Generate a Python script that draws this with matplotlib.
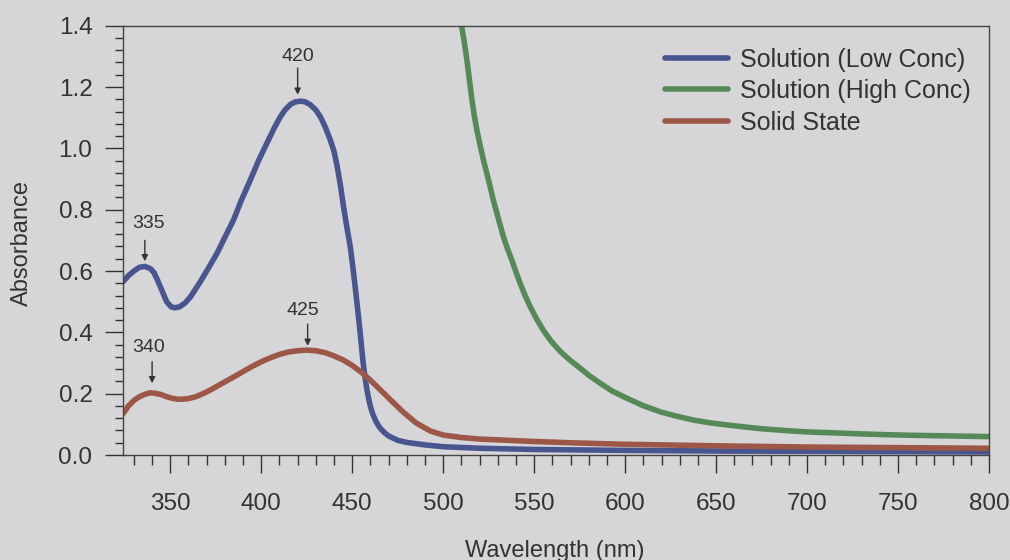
import numpy as np
import matplotlib.pyplot as plt
from matplotlib.ticker import MultipleLocator

plt.rcParams['font.family'] = ['Liberation Sans', 'DejaVu Sans']

wl_low = [324, 327, 330, 333, 336, 339, 341, 343, 345.5, 348, 350.5, 352.5, 355, 358,
          361, 366.5, 371, 375.7, 380, 384.8, 389, 394, 398.5, 403.1, 407, 410.4, 413,
          416, 418.5, 421.4, 424, 427, 430, 432.4, 435, 437.9, 440, 441.6, 443.5, 445.2,
          447, 448.9, 450.3, 451.6, 452.8, 454, 455, 456, 457, 458, 459, 460, 461.5,
          463, 465, 467.5, 470, 475, 480, 490, 500, 520, 550, 600, 650, 700, 800]
abs_low = [0.565, 0.585, 0.60, 0.612, 0.615, 0.608, 0.595, 0.57, 0.535, 0.50, 0.483,
           0.48, 0.483, 0.495, 0.515, 0.565, 0.61, 0.658, 0.71, 0.767, 0.83, 0.897,
           0.96, 1.017, 1.065, 1.102, 1.125, 1.143, 1.151, 1.154, 1.152, 1.142, 1.125,
           1.104, 1.072, 1.028, 0.99, 0.945, 0.88, 0.81, 0.745, 0.68, 0.615, 0.549,
           0.485, 0.42, 0.36, 0.30, 0.255, 0.215, 0.185, 0.158, 0.13, 0.11, 0.09, 0.074,
           0.062, 0.048, 0.041, 0.033, 0.027, 0.022, 0.018, 0.015, 0.013, 0.012, 0.010]

wl_high = [509.5, 511.5, 513, 514.5, 515.8, 517, 518.5, 520.3, 522.1, 524, 525.8, 527.5,
           529.5, 531.3, 533.1, 535.3, 537.7, 540, 542.3, 545, 547.8, 551.3, 555.1, 559.5,
           564.3, 569.5, 575.3, 580.5, 586.3, 593, 601, 609.5, 619.2, 628, 637.5, 646.5,
           655.9, 665, 674.2, 683, 692.5, 701.5, 710.8, 720, 729, 745, 760, 780, 800]
abs_high = [1.42, 1.35, 1.289, 1.22, 1.158, 1.11, 1.06, 1.01, 0.962, 0.918, 0.875, 0.832,
            0.789, 0.75, 0.712, 0.673, 0.636, 0.597, 0.56, 0.52, 0.484, 0.444, 0.406,
            0.37, 0.338, 0.31, 0.283, 0.258, 0.234, 0.208, 0.185, 0.162, 0.141, 0.127,
            0.114, 0.105, 0.098, 0.092, 0.086, 0.082, 0.078, 0.075, 0.073, 0.071, 0.069,
            0.066, 0.064, 0.062, 0.06]

wl_solid = [324, 327, 330, 333, 336, 339, 342, 345, 348, 351, 354, 357, 360, 364, 368,
            372, 378, 385, 390, 395, 400, 405, 410, 415, 420, 425, 430, 435, 440, 445,
            450, 455, 460, 465, 471, 478, 485, 493, 500, 510, 520, 535, 550, 575, 600,
            650, 700, 750, 800]
abs_solid = [0.135, 0.16, 0.178, 0.19, 0.198, 0.203, 0.201, 0.197, 0.19, 0.185, 0.182,
             0.182, 0.184, 0.19, 0.2, 0.212, 0.232, 0.255, 0.272, 0.289, 0.304, 0.317,
             0.328, 0.336, 0.34, 0.342, 0.34, 0.334, 0.323, 0.31, 0.292, 0.27, 0.244,
             0.215, 0.18, 0.14, 0.105, 0.078, 0.065, 0.057, 0.052, 0.048, 0.044, 0.039,
             0.035, 0.03, 0.026, 0.024, 0.022]

labels = ["Solution (Low Conc)", "Solution (High Conc)", "Solid State"]
colors = ["#48558f", "#558a58", "#9c5746"]

# Pics annotés : (texte, x flèche, y bout, y queue, x texte, y texte)
peaks = [("420", 420, 1.175, 1.262, 420, 1.30),
         ("335", 336, 0.632, 0.70, 338, 0.755),
         ("340", 340, 0.234, 0.304, 338, 0.35),
         ("425", 425.5, 0.356, 0.427, 423, 0.472)]

bg = "#d6d5d8"
ink = "#333333"

fig = plt.figure(figsize=(10.1, 5.6), dpi=100, facecolor=bg)
ax = fig.add_axes([123/1010, 1-455/560, 866/1010, (455-25.7)/560], facecolor=bg)

for w, a, lab, c in zip([wl_low, wl_high, wl_solid], [abs_low, abs_high, abs_solid], labels, colors):
    ax.plot(w, a, color=c, lw=4, label=lab, solid_capstyle='round', solid_joinstyle='round')

for txt, xa, ytip, ytail, xt, yt in peaks:
    ax.annotate('', xy=(xa, ytip), xytext=(xa, ytail),
                arrowprops=dict(arrowstyle='-|>', lw=1, color=ink, mutation_scale=9,
                                shrinkA=0, shrinkB=0))
    ax.text(xt, yt, txt, ha='center', va='center', fontsize=14, color=ink)

ax.set_xlim(324, 800)
ax.set_ylim(0, 1.4)
ax.xaxis.set_major_locator(MultipleLocator(50))
ax.xaxis.set_minor_locator(MultipleLocator(10))
ax.yaxis.set_major_locator(MultipleLocator(0.2))
ax.yaxis.set_minor_locator(MultipleLocator(0.04))

ax.tick_params(axis='x', which='major', length=13, width=1, pad=14, labelsize=17.5,
               colors=ink, direction='out')
ax.tick_params(axis='x', which='minor', length=7.5, width=1, colors=ink, direction='out')
ax.tick_params(axis='y', which='major', length=13, width=1, pad=9, labelsize=17.5,
               colors=ink, direction='out')
ax.tick_params(axis='y', which='minor', length=6, width=1, colors=ink, direction='out')
ax.xaxis.set_ticks_position('bottom')
ax.yaxis.set_ticks_position('left')
for s in ax.spines.values():
    s.set_color('#444444')
    s.set_linewidth(1)

fig.text(22/1010, 1-243/560, "Absorbance", rotation=90, ha='center', va='center',
         fontsize=17, color=ink)
fig.text(555/1010, 1-557/560, "Wavelength (nm)", ha='center', va='baseline',
         fontsize=17, color=ink)

leg = ax.legend(loc='upper left', bbox_to_anchor=(665/1010, 1-47.5/560),
                bbox_transform=fig.transFigure, frameon=False, fontsize=18,
                handlelength=2.5, handletextpad=0.5, labelspacing=0.3,
                borderpad=0, borderaxespad=0)
for t in leg.get_texts():
    t.set_color(ink)

plt.savefig("out.png", dpi=100, facecolor=bg)
